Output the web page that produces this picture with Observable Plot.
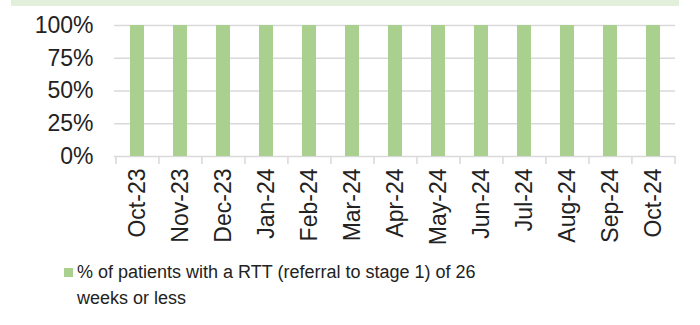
<!DOCTYPE html>
<html>
<head>
<meta charset="utf-8">
<script src="https://cdn.jsdelivr.net/npm/d3@7"></script>
<script src="https://cdn.jsdelivr.net/npm/@observablehq/plot@0.6"></script>
<style>
  html, body { margin: 0; padding: 0; background: #fff; }
  body { width: 700px; height: 325px; position: relative; overflow: hidden; font-family: "Liberation Sans", Arial, sans-serif; }
  #strip { position: absolute; left: 11px; top: 0; width: 668px; height: 6px; background: #e2efda; }
  #chart { position: absolute; left: 0; top: 0; }
  #legend { position: absolute; left: 64px; top: 259px; width: 440px; font-size: 18px; line-height: 26px; color: #222; }
  #legend .sw { display: inline-block; width: 9px; height: 9px; background: #a9d08e; margin-right: 4px; vertical-align: 1px; }
  #legend .l2 { padding-left: 13px; }
</style>
</head>
<body>
<div id="strip"></div>
<div id="chart"></div>
<div id="legend"><span class="sw"></span>% of patients with a RTT (referral to stage 1) of 26<br><span class="l2">weeks or less</span></div>
<script>
const months = ["Oct-23","Nov-23","Dec-23","Jan-24","Feb-24","Mar-24","Apr-24","May-24","Jun-24","Jul-24","Aug-24","Sep-24","Oct-24"];
const values = [1,1,1,1,1,1,1,1,1,1,1,1,1];
const yTicks = [0, 0.25, 0.5, 0.75, 1];
const seriesName = "% of patients with a RTT (referral to stage 1) of 26 weeks or less";

const data = months.map((m, i) => ({month: m, value: values[i]}));

const W = 700, mL = 114, mR = 25;
const step = (W - mL - mR) / months.length;

const chart = Plot.plot({
  width: W,
  height: 255,
  marginLeft: mL,
  marginRight: mR,
  marginTop: 25,
  marginBottom: 99,
  style: {fontFamily: "Liberation Sans, Arial, sans-serif", color: "#222", background: "transparent"},
  x: {domain: months, paddingInner: 0.675, paddingOuter: 0.3375, label: null},
  y: {domain: [0, 1], label: null},
  marks: [
    Plot.ruleY(yTicks, {stroke: "#d9d9d9", strokeWidth: 1.5}),
    Plot.barY(data, {x: "month", y: "value", fill: "#a9d08e"}),
    Plot.ruleX(months, {x: d => d, y1: 0, y2: 0, dx: -step / 2, stroke: "#d9d9d9", strokeWidth: 1.5, insetBottom: -8}),
    Plot.ruleX([months[months.length - 1]], {x: d => d, y1: 0, y2: 0, dx: step / 2, stroke: "#d9d9d9", strokeWidth: 1.5, insetBottom: -8}),
    Plot.axisY(yTicks, {tickFormat: d => Math.round(d * 100) + "%", tickSize: 0, tickPadding: 21, fontSize: 23, fill: "#222"}),
    Plot.axisX({tickRotate: -90, tickSize: 0, tickPadding: 12, fontSize: 23, fill: "#222"})
  ]
});
document.getElementById("chart").appendChild(chart);
</script>
</body>
</html>
